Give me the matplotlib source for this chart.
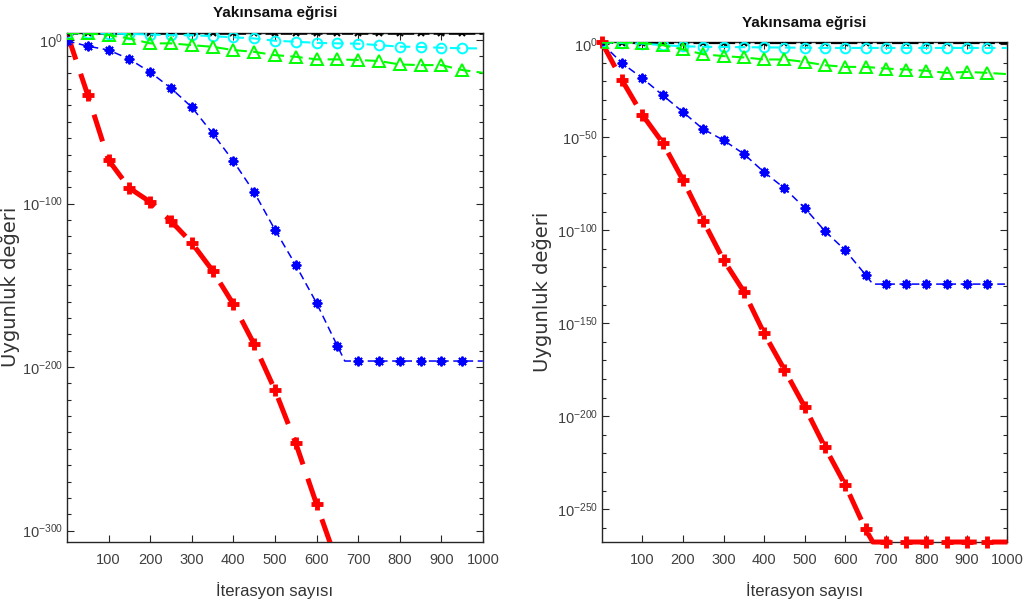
import numpy as np
import matplotlib
matplotlib.use("Agg")
import matplotlib.pyplot as plt
from matplotlib.ticker import FixedLocator, NullFormatter, FuncFormatter

plt.rcParams['font.family'] = ['Liberation Sans', 'DejaVu Sans']
plt.rcParams['mathtext.fontset'] = 'custom'
plt.rcParams['mathtext.rm'] = 'Liberation Sans'
plt.rcParams['mathtext.it'] = 'Liberation Sans'

# iteration grids (knee at ~668 where the curves flatten)
iters = [0, 50, 100, 150, 200, 250, 300, 350, 400, 450, 500,
         550, 600, 650, 700, 750, 800, 850, 900, 950, 1000]
iters_knee = [0, 50, 100, 150, 200, 250, 300, 350, 400, 450, 500,
              550, 600, 650, 668, 700, 750, 800, 850, 900, 950, 1000]
iters_red_left = [0, 50, 100, 150, 200, 250, 300, 350, 400, 450, 500,
                  550, 600, 650]

# fitness values, stored as log10 exponents
# --- first function ---
black_l = [4.3, 4.1, 4.1, 4.1, 4.1, 4.1, 4.1, 4.1, 4.1, 4.1, 4.1,
           4.1, 4.1, 4.1, 4.1, 4.1, 4.1, 4.1, 4.1, 4.1, 4.1]
cyan_l = [4.3, 4.2, 4.0, 3.8, 3.4, 3.0, 3.0, 2.4, 1.7, 1.0, -0.4,
          -1.0, -1.7, -2.0, -2.2, -3.1, -4.0, -4.2, -4.7, -5.0, -5.1]
green_l = [4.3, 4.1, 3.1, 1.0, -2.0, -2.0, -3.1, -4.1, -6.1, -7.2, -9.2,
           -10.2, -11.8, -11.8, -12.2, -12.8, -14.9, -15.3, -15.3, -18.3, -20.0]
blue_l = [-0.5, -3.7, -6.1, -11.6, -19.6, -29.4, -41.0, -57.0, -74.0, -93.0, -116.0,
          -137.6, -160.8, -187.0, -196.3, -196.3, -196.3, -196.3, -196.3, -196.3, -196.3, -196.3]
red_l = [4.3, -33.6, -73.4, -90.5, -99.0, -110.7, -124.0, -141.0, -161.5, -186.0, -214.0,
         -246.5, -283.8, -320.0]

# --- second function ---
black_r = [1.0, 0.8, 0.8, 0.8, 0.8, 0.8, 0.8, 0.8, 0.8, 0.8, 0.8,
           0.8, 0.8, 0.8, 0.8, 0.8, 0.8, 0.8, 0.8, 0.8, 0.8]
cyan_r = [1.0, 0.6, 0.3, -0.5, -1.1, -1.4, -1.5, -1.6, -1.7, -1.8, -1.9,
          -2.0, -2.0, -2.0, -2.0, -2.0, -2.0, -2.0, -2.0, -2.0, -2.0]
green_r = [1.0, 1.0, 0.7, -0.5, -2.8, -5.4, -6.4, -7.1, -8.2, -8.2, -9.5,
           -11.3, -12.2, -12.2, -13.1, -13.6, -14.3, -15.4, -14.9, -15.4, -16.1]
blue_r = [0.5, -10.2, -18.3, -27.4, -36.5, -45.7, -51.6, -59.0, -68.8, -77.4, -88.0,
          -100.5, -110.8, -124.0, -129.0, -129.0, -129.0, -129.0, -129.0, -129.0, -129.0, -129.0]
red_r = [1.0, -19.4, -38.0, -53.0, -73.0, -95.0, -116.0, -133.0, -155.5, -175.0, -195.0,
         -216.7, -237.0, -260.8, -267.7, -267.7, -267.7, -267.7, -267.7, -267.7, -267.7, -267.7]

title = "Yakınsama eğrisi"
xlabel = "İterasyon sayısı"
ylabel = "Uygunluk değeri"
xticks = [100, 200, 300, 400, 500, 600, 700, 800, 900, 1000]

GRAY = '#262626'


def marks(x):
    # marker every 50 iterations, none on the last point
    return [i for i, v in enumerate(x) if v % 50 == 0 and v < 1000]


def draw(ax, data, ylim, major_step, red_clip, ylab_x):
    red_x, red_e = data['red']
    blue_x, blue_e = data['blue']
    ax.plot(red_x, 10.0 ** np.array(red_e), color='#ff0000', lw=3.6,
            dashes=(5.6, 3.0), marker='+', ms=8, mew=3.5,
            markevery=marks(red_x), clip_on=red_clip, zorder=3)
    ax.plot(blue_x, 10.0 ** np.array(blue_e), color='#0000ff', lw=1.1,
            dashes=(5, 3), marker=(8, 2, 0), ms=7, mew=1.4,
            markevery=marks(blue_x), zorder=4)
    ax.plot(iters, 10.0 ** np.array(data['black']), color='k', lw=2.0,
            dashes=(4, 1.5), marker='x', ms=5, mew=1.5,
            markevery=marks(iters), zorder=5)
    ax.plot(iters, 10.0 ** np.array(data['cyan']), color='#00ffff', lw=1.5,
            dashes=(5, 3), marker='o', ms=7, mfc='none', mew=1.4,
            markevery=marks(iters), zorder=6)
    ax.plot(iters, 10.0 ** np.array(data['green']), color='#00ff00', lw=1.5,
            dashes=(6, 3), marker='^', ms=9, mfc='none', mew=1.4,
            markevery=marks(iters), zorder=7)

    ax.set_yscale('log')
    ax.set_xlim(0, 1000)
    ax.set_ylim(10.0 ** ylim[0], 10.0 ** ylim[1])

    lo = int(np.ceil(ylim[0] / 10.0)) * 10
    majors = [10.0 ** e for e in range(0, lo - 1, -major_step)]
    minors = [10.0 ** e for e in range(0, lo - 1, -10)]
    ax.yaxis.set_major_locator(FixedLocator(majors))
    ax.yaxis.set_minor_locator(FixedLocator(minors))
    ax.yaxis.set_minor_formatter(NullFormatter())
    ax.yaxis.set_major_formatter(FuncFormatter(
        lambda v, p: r'$10^{%d}$' % int(round(np.log10(v)))))
    ax.xaxis.set_major_locator(FixedLocator(xticks))
    ax.xaxis.set_minor_locator(FixedLocator([]))

    ax.tick_params(which='both', direction='in', top=True, right=True,
                   colors=GRAY, labelsize=10.5, labelcolor='#404040')
    ax.tick_params(which='major', length=5, width=0.8)
    ax.tick_params(which='minor', length=3, width=0.8)
    ax.tick_params(axis='x', pad=8)
    ax.tick_params(axis='y', pad=3)
    for s in ax.spines.values():
        s.set_color(GRAY)
        s.set_linewidth(1.0)

    ax.set_title(title, fontsize=11, fontweight='bold', color='#111111', pad=11)
    ax.set_xlabel(xlabel, fontsize=12, color='#333333', labelpad=11)
    ax.set_ylabel(ylabel, fontsize=14, color='#333333', family='DejaVu Sans')
    ax.yaxis.set_label_coords(ylab_x, 0.5)


fig = plt.figure(figsize=(10.27, 6.11), dpi=100)
ax1 = fig.add_axes([0.0652, 0.1137, 0.405, 0.833])
ax2 = fig.add_axes([0.586, 0.1129, 0.395, 0.818])

draw(ax1, {'red': (iters_red_left, red_l), 'blue': (iters_knee, blue_l),
           'black': black_l, 'cyan': cyan_l, 'green': green_l},
     (-306.7, 4.6), 100, True, -0.113)
draw(ax2, {'red': (iters_knee, red_r), 'blue': (iters_knee, blue_r),
           'black': black_r, 'cyan': cyan_r, 'green': green_r},
     (-267.7, 1.07), 50, False, -0.124)

fig.savefig('out.png', dpi=100)
